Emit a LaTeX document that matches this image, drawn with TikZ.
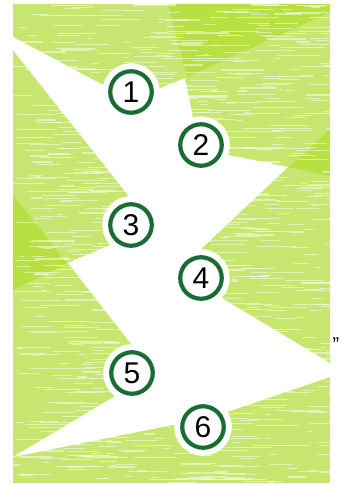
\documentclass[tikz,border=0pt]{standalone}
\usepackage{fontspec}
\setmainfont{Liberation Sans}
\definecolor{bggreen}{RGB}{198,230,112}
\definecolor{darkpatch}{RGB}{184,224,66}
\definecolor{ringgreen}{RGB}{26,108,52}
\tikzset{
  numc/.style={circle, draw=ringgreen, line width=4.2pt, fill=white,
    minimum size=41.5pt, inner sep=0pt, text=black,
    font=\fontsize{30}{30}\selectfont,
    preaction={draw=white, line width=16pt}},
  streak/.style={white, opacity=0.5, line width=1.1pt}
}
\begin{document}
\begin{tikzpicture}[x=1pt,y=-1pt]
\useasboundingbox (0,0) rectangle (349,484);
\begin{scope}
  \clip (13,4) rectangle (330,483);
  \fill[bggreen] (13,4) rectangle (330,483);
  \fill[darkpatch] (168,4) -- (330,4) -- (330,12) -- (187,77) -- cycle;
  \fill[darkpatch] (13,195) -- (67,263) -- (13,290) -- cycle;
  \fill[darkpatch] (288,167) -- (330,130) -- (330,176) -- cycle;
  \pgfmathsetseed{7}
  \foreach \i in {1,...,950}{
    \pgfmathsetmacro\xa{13+rnd*317}
    \pgfmathsetmacro\ya{4+rnd*479}
    \pgfmathsetmacro\len{4+rnd*40}
    \draw[streak] (\xa,\ya) -- ++(\len,0);
  }
\end{scope}
% white zigzag path
\fill[white] (13,37) -- (105,86) -- (160,88) -- (185,78) -- (193,118)
  -- (228,155) -- (288,167) -- (200,250) -- (220,297) -- (330,363)
  -- (330,377) -- (227,412) -- (177,424) -- (13,457) -- (117,395)
  -- (132,345) -- (68,263) -- (110,245) -- (128,195) -- (13,50) -- cycle;
% numbered steps
\node[numc] (n1) at (131,92) {1};
\node[numc] (n2) at (201,145) {2};
\node[numc] (n3) at (131,225) {3};
\node[numc] (n4) at (201,278) {4};
\node[numc] (n5) at (132,373) {5};
\node[numc] (n6) at (203,427) {6};
\node[font=\fontsize{20}{20}\selectfont, inner sep=0pt] (q) at (336,345) {\symbol{34}};
\end{tikzpicture}
\end{document}
